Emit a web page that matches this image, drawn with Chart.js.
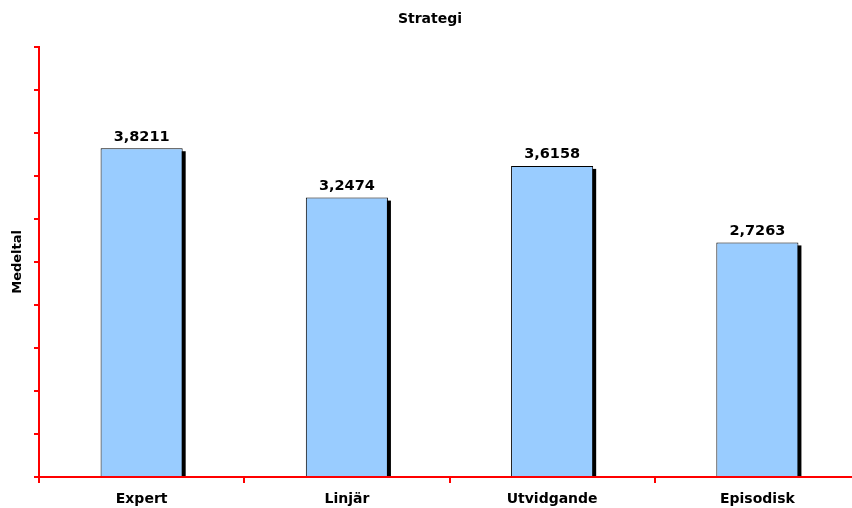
<!DOCTYPE html>
<html>
<head>
<meta charset="utf-8">
<script src="https://cdn.jsdelivr.net/npm/chart.js@4"></script>
<style>
  html, body { margin: 0; padding: 0; background: #fff; overflow: hidden; }
  #wrap { width: 860px; height: 508px; }
</style>
</head>
<body>
<div id="wrap"><canvas id="chart" width="860" height="508"></canvas></div>
<script>
// Strategi — mean values per strategy
const categories = ['Expert', 'Linjär', 'Utvidgande', 'Episodisk'];
const values = [3.8211, 3.2474, 3.6158, 2.7263];
const yMin = 0;
const yMax = 5;
const yStep = 0.5;

const RED = '#ff0000';
const FONT = "'DejaVu Sans', Verdana, sans-serif";

Chart.defaults.font.family = FONT;
Chart.defaults.color = '#000';

// black drop shadow on the right side of each bar
const barShadow = {
  id: 'barShadow',
  beforeDatasetsDraw(chart) {
    const ctx = chart.ctx;
    const meta = chart.getDatasetMeta(0);
    ctx.save();
    ctx.fillStyle = '#000';
    meta.data.forEach(bar => {
      const w = bar.width;
      ctx.fillRect(bar.x - w / 2 + 3, bar.y + 3, w, bar.base - bar.y - 3);
    });
    ctx.restore();
  }
};

// value labels above bars, swedish decimal comma
const valueLabels = {
  id: 'valueLabels',
  afterDatasetsDraw(chart) {
    const ctx = chart.ctx;
    const meta = chart.getDatasetMeta(0);
    ctx.save();
    ctx.font = 'bold 14.5px ' + FONT;
    ctx.fillStyle = '#000';
    ctx.textAlign = 'center';
    ctx.textBaseline = 'bottom';
    meta.data.forEach((bar, i) => {
      ctx.fillText(values[i].toFixed(4).replace('.', ','), bar.x, bar.y - 4);
    });
    ctx.restore();
  }
};

new Chart(document.getElementById('chart'), {
  type: 'bar',
  data: {
    labels: categories,
    datasets: [{
      data: values,
      backgroundColor: '#99ccff',
      borderColor: '#000',
      borderWidth: 1,
      borderSkipped: 'bottom',
      categoryPercentage: 0.4,
      barPercentage: 1,
    }],
  },
  options: {
    responsive: false,
    animation: false,
    layout: { padding: { left: 0, right: 0, top: 0, bottom: 0 } },
    plugins: {
      legend: { display: false },
      tooltip: { enabled: false },
      title: {
        display: true,
        text: 'Strategi',
        font: { size: 14, weight: 'bold' },
        color: '#000',
        padding: { top: 11, bottom: 19 },
      },
    },
    scales: {
      x: {
        grid: {
          offset: true,
          drawOnChartArea: false,
          drawTicks: true,
          tickLength: 6,
          color: RED,
          lineWidth: 2,
        },
        border: { color: RED, width: 2 },
        ticks: {
          font: { size: 14, weight: 'bold' },
          color: '#000',
          padding: 8,
          maxRotation: 0,
        },
        afterFit(scale) { scale.height = 31; },
      },
      y: {
        min: yMin,
        max: yMax,
        ticks: { stepSize: yStep, display: false },
        grid: {
          drawOnChartArea: false,
          drawTicks: true,
          tickLength: 5,
          color: RED,
          lineWidth: 2,
        },
        border: { color: RED, width: 2 },
        title: {
          display: true,
          text: 'Medeltal',
          font: { size: 13, weight: 'bold' },
          color: '#000',
          padding: { top: 10, bottom: 0 },
        },
        afterFit(scale) { scale.width = 39; },
      },
    },
  },
  plugins: [barShadow, valueLabels],
});
</script>
</body>
</html>
